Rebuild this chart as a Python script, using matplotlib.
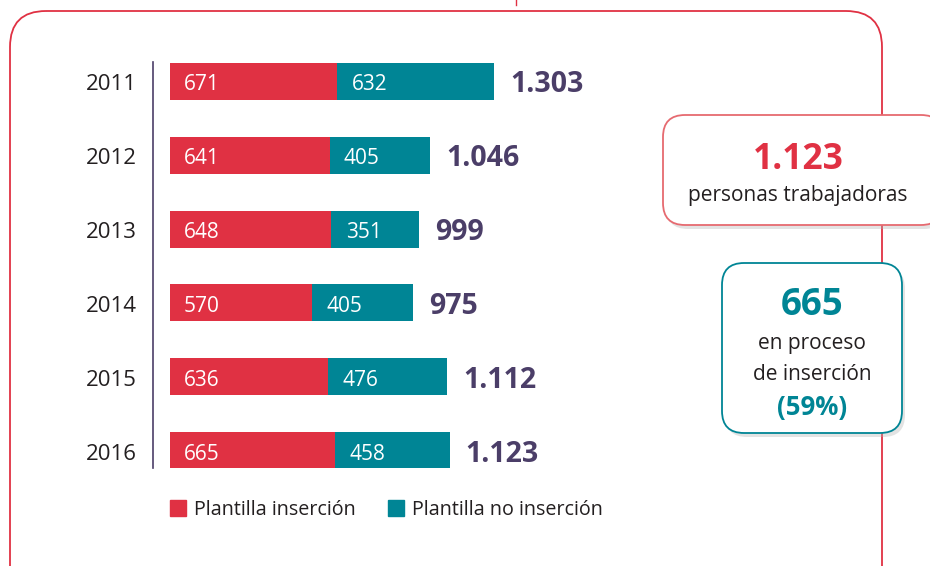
import numpy as np
import matplotlib.pyplot as plt
from matplotlib.patches import FancyBboxPatch, Rectangle

# ----- data -----
years = ['2011', '2012', '2013', '2014', '2015', '2016']
insercion = [671, 641, 648, 570, 636, 665]
no_insercion = [632, 405, 351, 405, 476, 458]
legend_labels = ['Plantilla inserción', 'Plantilla no inserción']

RED = '#e03143'
TEAL = '#008595'
PURPLE = '#4b3e68'
DARK = '#231f20'

plt.rcParams['font.family'] = ['Open Sans', 'DejaVu Sans']

fig = plt.figure(figsize=(9.3, 5.66), dpi=100)

# overlay in pixel units for the frame and side boxes
bg = fig.add_axes([0, 0, 1, 1])
bg.set_xlim(0, 930)
bg.set_ylim(566, 0)
bg.axis('off')

# outer rounded frame (runs off the bottom)
bg.add_patch(FancyBboxPatch((10, 11), 872, 600, boxstyle='round,pad=0,rounding_size=36',
                            fill=False, edgecolor=RED, lw=1.3))
bg.plot([516, 516], [0, 5], color=RED, lw=1)

# ----- bars -----
ax = fig.add_axes([153 / 930, 1 - 468 / 566, 547 / 930, 406 / 566])
ypos = np.arange(len(years))
totals = [a + b for a, b in zip(insercion, no_insercion)]

ax.barh(ypos, insercion, height=0.5, color=RED)
ax.barh(ypos, no_insercion, left=insercion, height=0.5, color=TEAL)

dy = 0.05  # text sits a bit low in the original
for i in range(len(years)):
    ax.text(55, ypos[i] + dy, str(insercion[i]), color='white', fontsize=15, va='center', ha='left')
    ax.text(insercion[i] + 58, ypos[i] + dy, str(no_insercion[i]), color='white', fontsize=15,
            va='center', ha='left')
    ax.text(totals[i] + 65, ypos[i] + dy, '{:,}'.format(totals[i]).replace(',', '.'), color=PURPLE,
            fontsize=20.5, fontweight='bold', va='center', ha='left')
    ax.text(-134, ypos[i] + dy, years[i], color=DARK, fontsize=16, va='center', ha='right')

ax.set_xlim(-68, 2129)
ax.set_ylim(5.23, -0.257)
ax.axis('off')
ax.plot([-68, -68], [5.23, -0.257], color=PURPLE, lw=1.2, clip_on=False)

# ----- legend -----
bg.add_patch(Rectangle((170, 500), 16, 16, color=RED))
bg.text(194, 510, legend_labels[0], color=DARK, fontsize=14.2, va='center', ha='left')
bg.add_patch(Rectangle((388, 500), 16, 16, color=TEAL))
bg.text(412, 510, legend_labels[1], color=DARK, fontsize=14.2, va='center', ha='left')

# ----- side boxes -----
def side_box(x, y, w, h, edge):
    bg.add_patch(FancyBboxPatch((x + 3, y + 4), w, h, boxstyle='round,pad=0,rounding_size=22',
                                facecolor='#b0b0b0', edgecolor='none', alpha=0.35, zorder=3))
    bg.add_patch(FancyBboxPatch((x, y), w, h, boxstyle='round,pad=0,rounding_size=22',
                                facecolor='white', edgecolor=edge, lw=1.3, zorder=4))

side_box(663, 115, 280, 110, '#e66a70')
bg.text(798, 160, '{:,}'.format(totals[-1]).replace(',', '.'), color=RED, fontsize=25.5,
        fontweight='bold', ha='center', va='center', zorder=5)
bg.text(798, 195, 'personas trabajadoras', color=DARK, fontsize=15, ha='center', va='center', zorder=5)

side_box(722, 263, 180, 170, TEAL)
pct = round(100 * insercion[-1] / totals[-1])
bg.text(812, 305, str(insercion[-1]), color=TEAL, fontsize=26.5, fontweight='bold',
        ha='center', va='center', zorder=5)
bg.text(812, 343, 'en proceso', color=DARK, fontsize=15, ha='center', va='center', zorder=5)
bg.text(812, 375, 'de inserción', color=DARK, fontsize=15, ha='center', va='center', zorder=5)
bg.text(812, 408, '({}%)'.format(pct), color=TEAL, fontsize=18.5, fontweight='bold',
        ha='center', va='center', zorder=5)

fig.savefig('out.png', dpi=100)
